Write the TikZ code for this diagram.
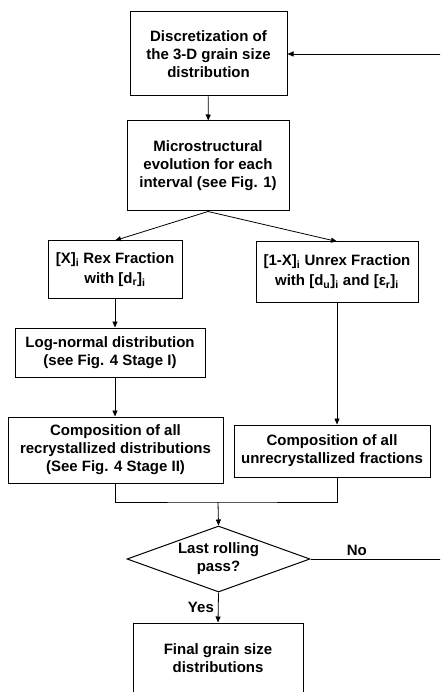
\documentclass[tikz,border=0pt]{standalone}
\usepackage{fontspec}
\setmainfont{Liberation Sans}
\usetikzlibrary{shapes.geometric,arrows.meta,positioning}

\begin{document}
\begin{tikzpicture}[x=1pt, y=-1pt,
    box/.style={rectangle, draw, line width=1pt, align=center, inner sep=0pt,
        font=\bfseries\fontsize{15}{18}\selectfont},
    decision/.style={diamond, draw, line width=1pt, inner sep=0pt, aspect=2.77,
        minimum width=183pt, minimum height=66pt},
    flow/.style={line width=0.8pt},
    >={Triangle[length=6pt, width=5pt]}]
    \clip (0,0) rectangle (440,692);

    \node (disc) [box, minimum width=157pt, minimum height=84pt] at (208.5,54)
        {Discretization of\\the 3-D grain size\\distribution};
    \node (micro) [box, minimum width=162pt, minimum height=90pt] at (208,166)
        {Microstructural\\evolution for each\\interval (see Fig. 1)};
    \node (rex) [box, minimum width=134pt, minimum height=57pt] at (115,269.5)
        {[X]\textsubscript{i} Rex Fraction\\[2pt] with [d\textsubscript{r}]\textsubscript{i}};
    \node (unrex) [box, minimum width=162pt, minimum height=60pt] at (337,272)
        {[1-X]\textsubscript{i} Unrex Fraction\\[2pt] with [d\textsubscript{u}]\textsubscript{i} and [ε\textsubscript{r}]\textsubscript{i}};
    \node (lognorm) [box, minimum width=190pt, minimum height=49pt] at (110,352.5)
        {Log-normal distribution\\(see Fig. 4 Stage I)};
    \node (comprex) [box, minimum width=215pt, minimum height=66pt] at (115.5,450)
        {Composition of all\\recrystallized distributions\\(See Fig. 4 Stage II)};
    \node (compunrex) [box, minimum width=196pt, minimum height=52pt] at (332,451)
        {Composition of all\\unrecrystallized fractions};
    \node (last) [decision, label={[align=center, font=\bfseries\fontsize{15}{18}\selectfont]center:Last rolling\\pass?}] at (218.5,559) {};
    \node (final) [box, minimum width=170pt, minimum height=70pt] at (218,658)
        {Final grain size\\distributions};

    \coordinate (merge) at (218,502);
    \coordinate (back) at (455,559);

    \draw[flow, ->] (disc) -- (micro);
    \draw[flow, ->] (micro.south) -- (rex.north);
    \draw[flow, ->] (micro.south) -- (unrex.north);
    \draw[flow, ->] (rex.south) -- (rex.south |- lognorm.north);
    \draw[flow, ->] (rex.south |- lognorm.south) -- (comprex.north -| rex.south);
    \draw[flow, ->] (unrex.south) -- (unrex.south |- compunrex.north);
    \draw[flow] (comprex.south -| rex.south) |- (merge) -| (unrex.south |- compunrex.south);
    \draw[flow, ->] (merge) -- (last.north);
    \draw[flow, ->] (last.south) -- (final.north)
        node[midway, left, inner sep=4pt, font=\bfseries\fontsize{15}{18}\selectfont] {Yes};
    \draw[flow, ->] (last.east) -- (back)
        node[pos=0.32, above, inner sep=3pt, font=\bfseries\fontsize{15}{18}\selectfont] {No}
        |- (disc.east);
\end{tikzpicture}
\end{document}
